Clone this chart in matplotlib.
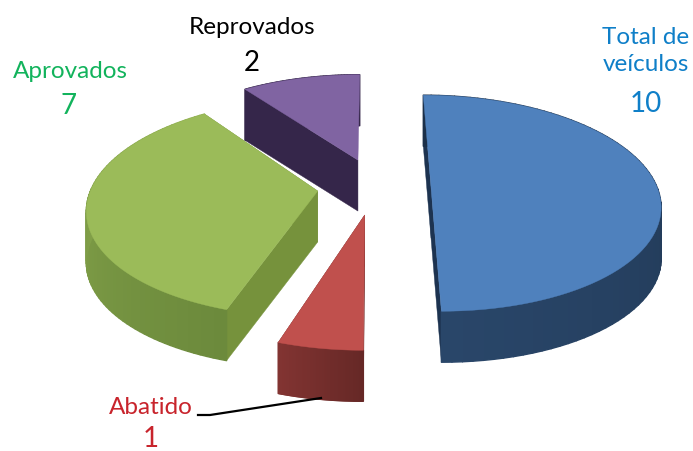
import matplotlib
matplotlib.use('Agg')
import matplotlib.pyplot as plt
import matplotlib.colors as mc
from matplotlib.collections import PolyCollection
from matplotlib.patches import Polygon
import numpy as np

labels = ['Total de\nveículos', 'Abatido', 'Aprovados', 'Reprovados']
values = [10, 1, 7, 2]
top_colors = ['#4f81bd', '#c0504d', '#9bbb59', '#8064a2']
flat_colors = ['#1d3350', '#6e2826', '#76923c', '#35264a']
side_dark = ['#1c3049', '#662826', '#6c8a3c', '#35264a']
side_light = ['#294669', '#823432', '#8fae50', '#35264a']
text_colors = ['#0f7fc8', '#c8242c', '#12b35c', '#000000']
# slice offsets from the pie centre, in px
offsets = [(59, 0), (-7, 0.255), (-54, 0.038), (-14.6, -0.265)]

X0, Y0 = 372, 188
A, B = 226, 105.6
K = 0.15
DEPTH = 51


def project(x, yn, z=0.0):
    s = 1 / (1 - K * yn)
    return X0 + x * s, Y0 + B * yn * s + DEPTH * z


def arc(off, t0, t1, n=80):
    t = np.linspace(t0, t1, n)
    return off[0] + A * np.sin(t), off[1] - np.cos(t)


fig = plt.figure(figsize=(6.93, 4.52), dpi=100)
ax = fig.add_axes([0, 0, 1, 1])
ax.set_xlim(0, 693)
ax.set_ylim(452, 0)
ax.axis('off')

angles = np.cumsum([0] + values) / sum(values) * 2 * np.pi

# draw order back to front
for i in [3, 2, 0, 1]:
    off = offsets[i]
    t0, t1 = angles[i], angles[i + 1]
    dark = np.array(mc.to_rgb(side_dark[i]))
    light = np.array(mc.to_rgb(side_light[i]))
    xs, ys = arc(off, t0, t1)
    # flat walls
    for tt in (t0, t1):
        # closing wall faces away when the slice is left of the viewer
        if tt == angles[-1] and off[0] < 0:
            continue
        ex = off[0] + A * np.sin(tt)
        ey = off[1] - np.cos(tt)
        p = [project(off[0], off[1]), project(ex, ey), project(ex, ey, 1), project(off[0], off[1], 1)]
        ax.add_patch(Polygon(p, fc=flat_colors[i], ec=flat_colors[i], lw=0.3))
    # curved wall in strips
    strips, cols = [], []
    for j in range(len(xs) - 1):
        f = j / (len(xs) - 2)
        strips.append([project(xs[j], ys[j]), project(xs[j + 1], ys[j + 1]),
                       project(xs[j + 1], ys[j + 1], 1), project(xs[j], ys[j], 1)])
        cols.append(dark + (light - dark) * f)
    ax.add_collection(PolyCollection(strips, facecolors=cols, edgecolors=cols, linewidths=1.0))
    top = [project(off[0], off[1])] + [project(a, b) for a, b in zip(xs, ys)]
    ax.add_patch(Polygon(top, fc=top_colors[i], ec=top_colors[i], lw=0.3))

font = 'Lato'
ax.text(646, 51, labels[0], color=text_colors[0], fontsize=17.5, ha='center', va='center', family=font, linespacing=1.3)
ax.text(646, 104, str(values[0]), color=text_colors[0], fontsize=20, ha='center', va='center', family=font)
ax.text(151, 408, labels[1], color=text_colors[1], fontsize=17.5, ha='center', va='center', family=font)
ax.text(151, 452, str(values[1]), color=text_colors[1], fontsize=20, ha='center', va='bottom', family=font)
ax.text(70, 71, labels[2], color=text_colors[2], fontsize=17.5, ha='center', va='center', family=font)
ax.text(69, 106, str(values[2]), color=text_colors[2], fontsize=20, ha='center', va='center', family=font)
ax.text(252, 28, labels[3], color=text_colors[3], fontsize=17.5, ha='center', va='center', family=font)
ax.text(252, 63, str(values[3]), color=text_colors[3], fontsize=20, ha='center', va='center', family=font)
ax.plot([198, 210, 321], [416, 416, 399], color='black', lw=1.6)

fig.savefig('out.png', dpi=100)
